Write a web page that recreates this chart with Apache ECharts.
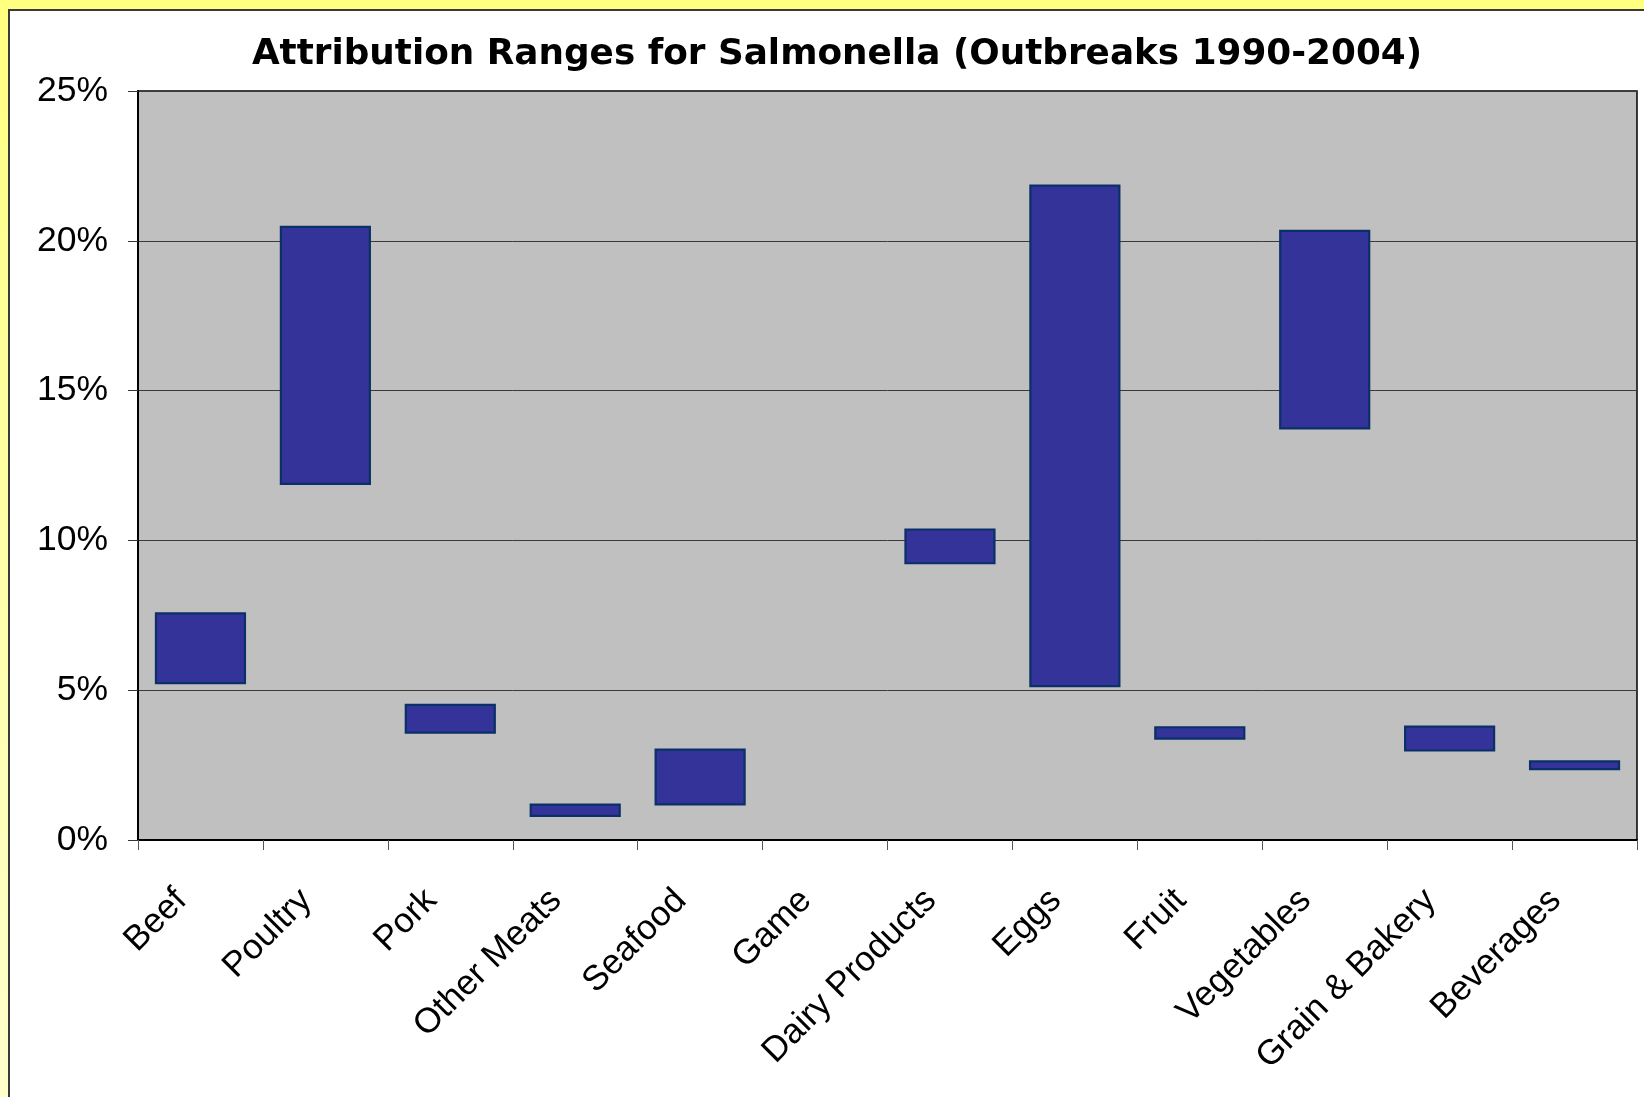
<!DOCTYPE html>
<html>
<head>
<meta charset="utf-8">
<title>Attribution Ranges for Salmonella</title>
<script src="https://cdn.jsdelivr.net/npm/echarts@6/dist/echarts.min.js"></script>
<style>
  html, body { margin: 0; padding: 0; }
  body {
    width: 1644px; height: 1097px; overflow: hidden;
    background: linear-gradient(to bottom, #FFFF80 0%, #FFFFA8 50%, #FFFFCC 100%);
  }
  #chart { width: 1644px; height: 1097px; }
</style>
</head>
<body>
<div id="chart"></div>
<script>
// Food categories on the x axis
const categories = ['Beef', 'Poultry', 'Pork', 'Other Meats', 'Seafood', 'Game',
  'Dairy Products', 'Eggs', 'Fruit', 'Vegetables', 'Grain & Bakery', 'Beverages'];

// Lower and upper ends of each attribution range, in percent (Game has no range)
const rangeLow  = [5.2, 11.85, 3.55, 0.77, 1.15, null, 9.2, 5.1, 3.35, 13.7, 2.95, 2.33];
const rangeHigh = [7.6, 20.5, 4.55, 1.22, 3.05, null, 10.4, 21.88, 3.8, 20.37, 3.82, 2.66];

// Y axis ticks, in percent
const yTicks = [0, 5, 10, 15, 20, 25];

const rangeSpan = rangeLow.map((lo, i) =>
  (lo == null || rangeHigh[i] == null) ? null : +(rangeHigh[i] - lo).toFixed(3));

const chart = echarts.init(document.getElementById('chart'), null, { renderer: 'canvas' });

chart.setOption({
  backgroundColor: 'transparent',
  animation: false,
  graphic: [{
    type: 'rect',
    z: -10,
    shape: { x: 9, y: 10, width: 1700, height: 1200 },
    style: { fill: '#FFFFFF', stroke: '#3A3A3A', lineWidth: 2 }
  }],
  title: {
    text: 'Attribution Ranges for Salmonella (Outbreaks 1990-2004)',
    left: 832,
    textAlign: 'center',
    top: 32,
    textStyle: {
      fontFamily: 'DejaVu Sans',
      fontWeight: 'bold',
      fontSize: 35.8,
      color: '#000000'
    }
  },
  grid: {
    left: 138,
    right: 7,
    top: 91,
    bottom: 257,
    show: true,
    backgroundColor: '#C0C0C0',
    borderColor: '#000000',
    borderWidth: 1.5,
    outerBoundsMode: 'none',
    containLabel: false
  },
  xAxis: {
    type: 'category',
    data: categories,
    boundaryGap: true,
    axisLine: { show: true, lineStyle: { color: '#000000', width: 2 } },
    axisTick: { show: true, length: 10, alignWithLabel: false,
      lineStyle: { color: '#555555', width: 1 } },
    axisLabel: {
      interval: 0,
      rotate: 45,
      margin: 36,
      padding: [0, 27, 0, 0],
      fontFamily: 'Liberation Sans',
      fontSize: 35,
      color: '#000000'
    },
    splitLine: { show: false }
  },
  yAxis: {
    type: 'value',
    min: yTicks[0],
    max: yTicks[yTicks.length - 1],
    interval: yTicks[1] - yTicks[0],
    axisLine: { show: true, lineStyle: { color: '#000000', width: 2 } },
    axisTick: { show: true, length: 10, lineStyle: { color: '#333333', width: 1 } },
    axisLabel: {
      margin: 30,
      formatter: '{value}%',
      fontFamily: 'Liberation Sans',
      fontSize: 35.5,
      color: '#000000'
    },
    splitLine: { show: true, lineStyle: { color: '#3A3A3A', width: 1 } }
  },
  series: [
    {
      name: 'base',
      type: 'bar',
      stack: 'range',
      data: rangeLow,
      barWidth: '73%',
      itemStyle: { color: 'transparent', borderWidth: 0 },
      silent: true
    },
    {
      name: 'range',
      type: 'bar',
      stack: 'range',
      data: rangeSpan,
      barWidth: '73%',
      itemStyle: { color: '#333399', borderColor: '#0A3068', borderWidth: 2.2 }
    }
  ]
});
</script>
</body>
</html>
